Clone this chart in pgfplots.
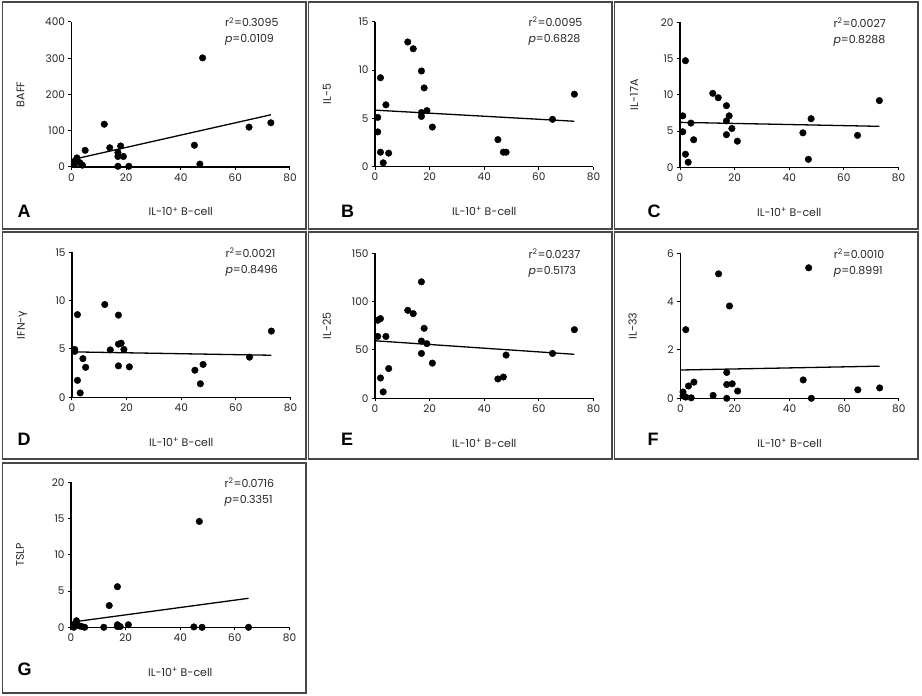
\documentclass[border=0pt]{standalone}
\usepackage{fontspec}
\setmainfont{Poppins}
\newfontfamily\gfont{DejaVu Sans}
\newfontfamily\lblfont{Liberation Sans}
\usepackage{pgfplots}
\pgfplotsset{compat=1.18}

\pgfplotsset{panel/.style={
  scale only axis, width=218.5pt, height=145pt,
  xmin=0, xmax=80, ymin=0,
  axis lines=left, axis line style={-, line width=1.3pt, black},
  xtick={0,20,40,60,80},
  tick align=outside, major tick length=3pt,
  tick style={line width=1pt, black},
  tick label style={font=\fontsize{10.5}{12}\selectfont, text=black!85},
  /pgf/number format/assume math mode=true,
  clip=false, anchor=south west,
  xlabel={IL-10\textsuperscript{+} B-cell},
  xlabel style={at={(rel axis cs:0.5,0)}, anchor=base, yshift=-49pt, font=\fontsize{11}{12}\selectfont, text=black!85},
  ylabel style={anchor=center, font=\fontsize{11}{12}\selectfont, text=black!85},
},
dots/.style={only marks, mark=*, mark size=3.3pt, black},
fit/.style={no marks, line width=1.3pt, black},
}
\newcommand{\stats}[2]{%
  \node[anchor=base west, font=\fontsize{11}{12}\selectfont, text=black!85] at (rel axis cs:0,0) [xshift=150pt, yshift=140pt] {r\textsuperscript{2}=#1};
  \node[anchor=base west, font=\fontsize{11}{12}\selectfont, text=black!85] at (rel axis cs:0,0) [xshift=150pt, yshift=124pt] {\textit{p}=#2};
}

\begin{document}
\begin{tikzpicture}
\useasboundingbox (0,0) rectangle (922pt,696pt);

% ---------- A ----------
\begin{axis}[panel, at={(71.5pt,529pt)}, ymax=400, ytick={0,100,200,300,400},
  ylabel={BAFF}, ylabel style={at={(rel axis cs:-0.233,0.5)}}]
\addplot[dots] coordinates {(1,15) (1,8) (2,25) (2,18) (3,12) (4,5) (5,46) (12,118) (14,53) (17,29) (17,2) (17,40) (18,58) (19,29) (21,2) (45,60) (47,8) (48,301) (65,110) (73,122)};
\addplot[fit] coordinates {(0,20) (73,144)};
\stats{0.3095}{0.0109}
\end{axis}

% ---------- B ----------
\begin{axis}[panel, at={(375pt,529.3pt)}, ymax=15, ytick={0,5,10,15},
  ylabel={IL-5}, ylabel style={at={(rel axis cs:-0.22,0.5)}}]
\addplot[dots] coordinates {(1,5.1) (1,3.6) (2,9.2) (2,1.5) (3,0.4) (4,6.4) (5,1.4) (12,12.9) (14,12.2) (17,9.9) (17,5.6) (17,5.2) (18,8.15) (19,5.8) (21,4.1) (45,2.8) (47,1.5) (48,1.5) (65,4.9) (73,7.5)};
\addplot[fit] coordinates {(0,5.85) (73,4.7)};
\stats{0.0095}{0.6828}
\end{axis}

% ---------- C ----------
\begin{axis}[panel, at={(680pt,528.7pt)}, ymax=20, ytick={0,5,10,15,20},
  ylabel={IL-17A}, ylabel style={at={(rel axis cs:-0.21,0.5)}}]
\addplot[dots] coordinates {(1,7.1) (1,4.9) (2,14.7) (2,1.8) (3,0.7) (4,6.1) (5,3.8) (12,10.2) (14,9.6) (17,8.5) (17,6.4) (17,4.5) (18,7.1) (19,5.35) (21,3.6) (45,4.75) (47,1.1) (48,6.7) (65,4.4) (73,9.2)};
\addplot[fit] coordinates {(0,6.2) (73,5.65)};
\stats{0.0027}{0.8288}
\end{axis}

% ---------- D ----------
\begin{axis}[panel, at={(72pt,298.7pt)}, ymax=15, ytick={0,5,10,15},
  ylabel={IFN-{\gfont γ}}, ylabel style={at={(rel axis cs:-0.228,0.5)}}]
\addplot[dots] coordinates {(1,4.95) (1,4.75) (2,8.55) (2,1.75) (3,0.45) (4,4.0) (5,3.1) (12,9.6) (14,4.9) (17,8.5) (17,5.5) (17,3.25) (18,5.6) (19,4.95) (21,3.15) (45,2.8) (47,1.4) (48,3.4) (65,4.15) (73,6.85)};
\addplot[fit] coordinates {(0,4.7) (73,4.35)};
\stats{0.0021}{0.8496}
\end{axis}

% ---------- E ----------
\begin{axis}[panel, at={(375pt,297.7pt)}, ymax=150, ytick={0,50,100,150},
  ylabel={IL-25}, ylabel style={at={(rel axis cs:-0.22,0.5)}}]
\addplot[dots] coordinates {(1,80.7) (1,64) (2,82.4) (2,21) (3,6.6) (4,64) (5,30.8) (12,91) (14,87.6) (17,120.5) (17,59.2) (17,46.4) (18,72.4) (19,56.5) (21,36.4) (45,20) (47,22) (48,44.7) (65,46.4) (73,71)};
\addplot[fit] coordinates {(0,59.5) (73,45.5)};
\stats{0.0237}{0.5173}
\end{axis}

% ---------- F ----------
\begin{axis}[panel, at={(680.3pt,297.7pt)}, ymax=6, ytick={0,2,4,6},
  ylabel={IL-33}, ylabel style={at={(rel axis cs:-0.218,0.5)}}]
\addplot[dots] coordinates {(1,0.26) (1,0.1) (2,2.84) (2,0.05) (3,0.51) (4,0.02) (5,0.67) (12,0.12) (14,5.15) (17,1.07) (17,0.57) (17,0.0) (18,3.82) (19,0.6) (21,0.3) (45,0.76) (47,5.4) (48,0) (65,0.35) (73,0.43)};
\addplot[fit] coordinates {(0,1.17) (73,1.33)};
\stats{0.0010}{0.8991}
\end{axis}

% ---------- G ----------
\begin{axis}[panel, at={(71pt,68.7pt)}, ymax=20, ytick={0,5,10,15,20},
  ylabel={TSLP}, ylabel style={at={(rel axis cs:-0.233,0.5)}}]
\addplot[dots] coordinates {(1,0.3) (1,0.0) (2,0.9) (2,0.5) (3,0.2) (4,0.1) (5,0) (12,0) (14,3.0) (17,5.6) (17,0.35) (17,0.1) (18,0.1) (21,0.35) (45,0.05) (47,14.6) (48,0) (65,0)};
\addplot[fit] coordinates {(0,0.7) (65,4.0)};
\stats{0.0716}{0.3351}
\end{axis}

% panel frames
\begin{scope}[draw=black!72, line width=1.2pt]
\draw (2.5pt,467pt) rectangle (306pt,694pt);
\draw (308.5pt,467pt) rectangle (612pt,694pt);
\draw (614.5pt,467pt) rectangle (918pt,694pt);
\draw (2.5pt,237pt) rectangle (306pt,464pt);
\draw (308.5pt,237pt) rectangle (612pt,464pt);
\draw (614.5pt,237pt) rectangle (918pt,464pt);
\draw (2.5pt,3pt) rectangle (306pt,233pt);
\end{scope}

% panel letters
\begin{scope}[every node/.style={anchor=base west, font=\lblfont\bfseries\fontsize{18}{20}\selectfont}]
\node at (14pt,478pt) {A};
\node at (337.5pt,478pt) {B};
\node at (644pt,478pt) {C};
\node at (14pt,250pt) {D};
\node at (337.5pt,250pt) {E};
\node at (644pt,250pt) {F};
\node at (14pt,20pt) {G};
\end{scope}
\end{tikzpicture}
\end{document}
